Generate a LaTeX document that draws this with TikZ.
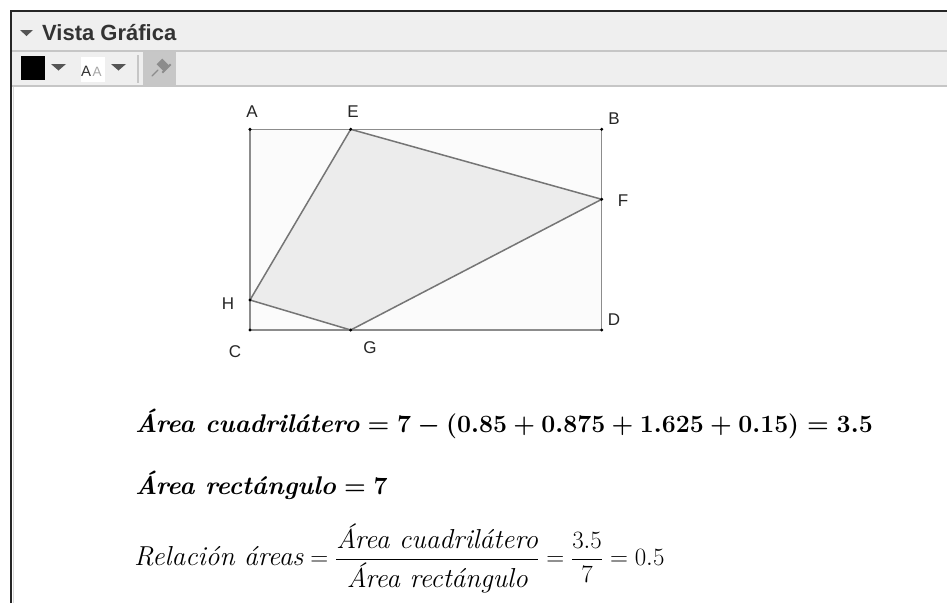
\documentclass[tikz,border=0pt]{standalone}
\usepackage{fontspec}
\usepackage{amsmath}
\newfontfamily\arial{Liberation Sans}
\definecolor{panel}{HTML}{EFEFEF}
\definecolor{rule}{HTML}{C6C6C6}
\definecolor{icon}{HTML}{555555}
\definecolor{edge}{HTML}{757575}
\definecolor{rectedge}{HTML}{8C8C8C}
\definecolor{quadfill}{HTML}{ECECEC}
\newcommand{\formfont}{\fontsize{25.6}{30}\selectfont}
\newcommand{\formfontb}{\fontsize{27.4}{32}\selectfont}
\newcommand{\labfont}{\arial\fontsize{17}{20}\selectfont}
\newsavebox{\fone}
\newsavebox{\ftwo}
\newsavebox{\fthree}
\tikzset{
  ptlabel/.style={font=\labfont, text=black!85, inner sep=0pt},
  pt/.style={fill=black, draw=none},
  eqnode/.style={anchor=base west, inner sep=0pt, text=black!90},
  toolrule/.style={draw=rule, line width=2pt},
}
\begin{document}
\sbox{\fone}{\formfont\boldmath$\textbf{\textit{Área cuadrilátero}} = 7 - (0.85 + 0.875 + 1.625 + 0.15) = 3.5$}%
\sbox{\ftwo}{\formfont\boldmath$\textbf{\textit{Área rectángulo}} = 7$}%
\sbox{\fthree}{\formfontb$\textit{Relación áreas} = \dfrac{\textit{Área cuadrilátero}}{\textit{Área rectángulo}} = \dfrac{3.5}{7} = 0.5$}%
\begin{tikzpicture}[x=1pt,y=-1pt]
\path[use as bounding box, fill=white] (0,0) rectangle (947,603);
% header and toolbar
\fill[panel] (12,12) rectangle (947,85);
\draw[toolrule] (12,50.5) -- (947,50.5);
\draw[toolrule] (12,86) -- (947,86);
\draw[black!85, line width=2.5pt] (11.2,603) -- (11.2,11.2) -- (947,11.2);
\draw[black!15, line width=1pt] (13.8,603) -- (13.8,87);
% title
\fill[icon] (20,30) -- (33,30) -- (26.5,36) -- cycle;
\node[anchor=west, inner sep=0pt, font=\arial\bfseries\fontsize{22}{25}\selectfont, text=black!80] (title) at (42,33) {Vista Gráfica};
% toolbar icons
\fill[black] (20.5,56) rectangle (44.5,80);
\fill[icon] (51,64) -- (66,64) -- (58.5,70.5) -- cycle;
\fill[white] (81,57) rectangle (105,82);
\node[anchor=base west, inner sep=0pt, font=\arial\fontsize{15}{16}\selectfont, text=black!80] (aa1) at (81,76) {A};
\node[anchor=base west, inner sep=0pt, font=\arial\fontsize{13.5}{14}\selectfont, text=black!35] (aa2) at (92.5,76) {A};
\fill[icon] (111,64) -- (126,64) -- (118.5,70.5) -- cycle;
\draw[rule, line width=1.5pt] (138,55) -- (138,83);
\fill[black!22] (143,52) rectangle (176,85);
\draw[black!45, line width=1.2pt, line cap=round] (152,76) -- (158,70);
\fill[black!45, rotate around={45:(163,65)}] (159,60) rectangle (167,70);
\fill[black!45, rotate around={45:(163,65)}] (157,69) rectangle (169,71);
% geometry
\coordinate (A) at (250,129.3);
\coordinate (B) at (601.7,129.3);
\coordinate (C) at (250,330);
\coordinate (D) at (601.7,330);
\coordinate (E) at (350.7,129.3);
\coordinate (F) at (601.7,199.3);
\coordinate (G) at (350.7,330);
\coordinate (H) at (250,300);
\fill[black!1.5] (A) rectangle (D);
\draw[rectedge, line width=1.3pt] (A) -- (B) -- (D) -- (C) -- cycle;
\filldraw[fill=quadfill, draw=edge, line width=1.5pt, line join=round] (E) -- (F) -- (G) -- (H) -- cycle;
\foreach \p in {A,B,C,D,E,F,G,H} \fill[pt] (\p) circle (1.7);
\node[ptlabel] (lA) at (252,112) {A};
\node[ptlabel] (lE) at (353,112) {E};
\node[ptlabel] (lB) at (614,119) {B};
\node[ptlabel] (lF) at (623,201) {F};
\node[ptlabel] (lH) at (228,304) {H};
\node[ptlabel] (lD) at (614,320) {D};
\node[ptlabel] (lC) at (235,352) {C};
\node[ptlabel] (lG) at (370,348) {G};
% formulas
\node[eqnode] (f1) at (135,432) {\usebox{\fone}};
\node[eqnode] (f2) at (135,494) {\usebox{\ftwo}};
\node[eqnode] (f3) at (134,565.5) {\usebox{\fthree}};
\end{tikzpicture}
\end{document}
